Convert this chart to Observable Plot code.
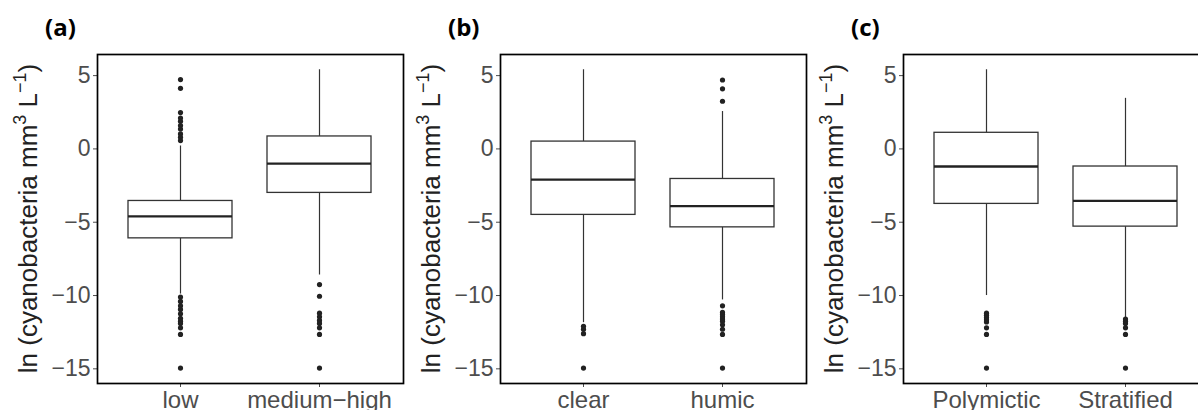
<!DOCTYPE html>
<html>
<head>
<meta charset="utf-8">
<script src="https://cdn.jsdelivr.net/npm/d3@7"></script>
<script src="https://cdn.jsdelivr.net/npm/@observablehq/plot@0.6"></script>
<style>
  html, body { margin: 0; padding: 0; background: white; }
  body { width: 1198px; height: 410px; overflow: hidden; position: relative; }
  .panel { position: absolute; top: 0; width: 406px; height: 410px; }
  .plabel { position: absolute; top: 15px; font-family: "Open Sans", sans-serif; font-weight: 700; font-size: 24px; line-height: 24px; color: #000; }
  .panel svg { position: absolute; top: 46px; left: 0; }
</style>
</head>
<body>
<div id="root"></div>
<script>
// ---- data ----
const panelLabels = ["(a)", "(b)", "(c)"];
const yTicks = [5, 0, -5, -10, -15];

// Panel (a)
const catsA = ["low", "medium\u2212high"];
const loA  = [-9.9, -8.6];
const q1A  = [-6.1, -3.0];
const medA = [-4.6, -1.0];
const q3A  = [-3.55, 0.85];
const hiA  = [0.2, 5.4];
const outA = [
  [4.73, 4.13, 2.48, 2.11, 1.88, 1.59, 1.36, 1.02, 0.79, 0.57,
   -10.1, -10.4, -10.7, -10.95, -11.25, -11.55, -11.75, -11.9, -12.2, -12.65, -14.95],
  [-9.25, -10.05, -11.2, -11.45, -11.7, -11.9, -12.2, -12.65, -14.95]
];

// Panel (b)
const catsB = ["clear", "humic"];
const loB  = [-11.85, -10.3];
const q1B  = [-4.5, -5.35];
const medB = [-2.1, -3.9];
const q3B  = [0.5, -2.05];
const hiB  = [5.4, 2.55];
const outB = [
  [-12.1, -12.3, -12.6, -14.95],
  [4.7, 4.1, 3.25, -10.7, -11.15, -11.3, -11.45, -11.6, -11.75, -12.0, -12.3, -12.65, -14.95]
];

// Panel (c)
const catsC = ["Polymictic", "Stratified"];
const loC  = [-10.0, -11.5];
const q1C  = [-3.75, -5.3];
const medC = [-1.2, -3.55];
const q3C  = [1.1, -1.2];
const hiC  = [5.4, 3.45];
const outC = [
  [-11.2, -11.35, -11.5, -11.65, -11.8, -12.2, -12.65, -14.95],
  [-11.6, -11.75, -11.9, -12.2, -12.65, -14.95]
];

const panels = [
  {cats: catsA, lo: loA, q1: q1A, med: medA, q3: q3A, hi: hiA, out: outA},
  {cats: catsB, lo: loB, q1: q1B, med: medB, q3: q3B, hi: hiB, out: outB},
  {cats: catsC, lo: loC, q1: q1C, med: medC, q3: q3C, hi: hiC, out: outC}
];

// ---- drawing ----
const root = document.getElementById("root");
const panelLeft = [0, 403, 806];
const W = 406, H = 364;
const mL = 97, mR = 3, mT = 8, mB = 27;

panels.forEach((p, k) => {
  const rows = p.cats.map((c, i) => ({cat: c, lo: p.lo[i], q1: p.q1[i], med: p.med[i], q3: p.q3[i], hi: p.hi[i]}));
  const outRows = p.cats.flatMap((c, i) => p.out[i].map(v => ({cat: c, v})));

  const div = document.createElement("div");
  div.className = "panel";
  div.style.left = panelLeft[k] + "px";
  const lab = document.createElement("div");
  lab.className = "plabel";
  lab.style.left = "45px";
  lab.textContent = panelLabels[k];
  div.appendChild(lab);

  const chart = Plot.plot({
    width: W, height: H,
    marginLeft: mL, marginRight: mR, marginTop: mT, marginBottom: mB,
    style: {background: "transparent", fontFamily: "'Liberation Sans', Arial, sans-serif", overflow: "visible"},
    x: {type: "band", domain: p.cats, paddingInner: 0.25, paddingOuter: 0.225, label: null},
    y: {domain: [-16.0, 6.44], label: null},
    marks: [
      Plot.ruleX(rows, {x: "cat", y1: "lo", y2: "q1", stroke: "#333", strokeWidth: 1.2}),
      Plot.ruleX(rows, {x: "cat", y1: "q3", y2: "hi", stroke: "#333", strokeWidth: 1.2}),
      Plot.barY(rows, {x: "cat", y1: "q1", y2: "q3", fill: "white", stroke: "#333", strokeWidth: 1.3}),
      Plot.tickY(rows, {x: "cat", y: "med", stroke: "#222", strokeWidth: 2.3}),
      Plot.dot(outRows, {x: "cat", y: "v", r: 2.6, fill: "#222", stroke: null}),
      Plot.axisY({ticks: yTicks, tickSize: 4, tickPadding: 3, fontSize: 23, color: "#4d4d4d", label: null}),
      Plot.axisX({tickSize: 4, tickPadding: 3, fontSize: 24, color: "#4d4d4d", label: null}),
      Plot.frame({stroke: "black", strokeWidth: 1.7})
    ]
  });

  // y-axis title with superscripts
  const svg = d3.select(chart);
  const t = svg.append("text")
    .attr("transform", `translate(37, ${mT + (H - mT - mB) / 2}) rotate(-90)`)
    .attr("text-anchor", "middle")
    .attr("font-family", "'Liberation Sans', Arial, sans-serif")
    .attr("font-size", 26)
    .attr("fill", "#222");
  t.append("tspan").text("ln (cyanobacteria mm");
  t.append("tspan").attr("font-size", 18).attr("dy", -11).text("3");
  t.append("tspan").attr("dy", 11).text(" L");
  t.append("tspan").attr("font-size", 18).attr("dy", -11).text("\u22121");
  t.append("tspan").attr("dy", 11).text(")");

  div.appendChild(chart);
  root.appendChild(div);
});
</script>
</body>
</html>
